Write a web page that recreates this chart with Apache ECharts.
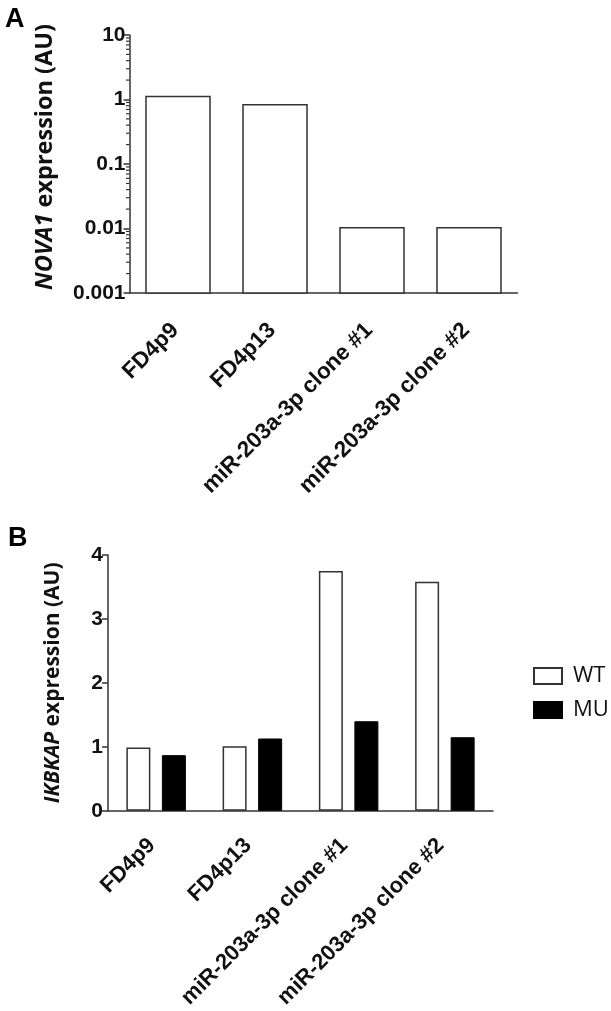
<!DOCTYPE html>
<html>
<head>
<meta charset="utf-8">
<script src="https://cdn.jsdelivr.net/npm/echarts@6/dist/echarts.min.js"></script>
<style>html,body{margin:0;padding:0;background:#fff;overflow:hidden}#c{width:611px;height:1011px}</style>
</head>
<body>
<div id="c"></div>
<script>
// ---- data ----
const categories = ['FD4p9', 'FD4p13', 'miR-203a-3p clone #1', 'miR-203a-3p clone #2'];
const nova1Values = [1.11, 0.83, 0.0103, 0.0103];
const ikbkapWT = [0.99, 1.01, 3.75, 3.58];
const ikbkapMU = [0.87, 1.13, 1.40, 1.15];
const seriesNames = ['WT', 'MU'];
const logTickLabels = ['0.001', '0.01', '0.1', '1', '10'];

const minorLogTicks = [];
[0.001, 0.01, 0.1, 1].forEach(d => { for (let k = 2; k <= 9; k++) minorLogTicks.push(+(d * k).toPrecision(3)); });

const axisColor = '#333';
const yTickFont = { fontFamily: 'Liberation Sans', fontWeight: 'bold', fontSize: 21, color: '#111' };

const chart = echarts.init(document.getElementById('c'), null, { renderer: 'canvas' });

function catAxis(gridIndex, margin, pad, size) {
  return {
    type: 'category', gridIndex, data: categories,
    axisLine: { lineStyle: { color: axisColor, width: 1.5 } },
    axisTick: { alignWithLabel: true, length: 7, lineStyle: { color: axisColor, width: 1.5 } },
    axisLabel: {
      interval: 0, rotate: 45, margin: margin, padding: [0, pad, 0, 0],
      fontFamily: 'Liberation Sans', fontWeight: 'bold', fontSize: size, color: '#111'
    }
  };
}
function nameStyle(size, pad) {
  return {
    fontFamily: 'Open Sans', fontWeight: 'bold', fontSize: size, color: '#111', padding: pad,
    rich: { i: { fontFamily: 'Open Sans', fontWeight: 'bold', fontStyle: 'italic', fontSize: size, color: '#111' } }
  };
}

chart.setOption({
  animation: false,
  title: [
    { text: 'A', left: 0, top: 1, textStyle: { fontFamily: 'Liberation Sans', fontWeight: 'bold', fontSize: 27, color: '#000' } },
    { text: 'B', left: 3, top: 520, textStyle: { fontFamily: 'Liberation Sans', fontWeight: 'bold', fontSize: 27, color: '#000' } }
  ],
  grid: [
    { left: 129.5, top: 35, width: 388, height: 258 },
    { left: 108, top: 555, width: 385, height: 257 }
  ],
  legend: {
    data: seriesNames, orient: 'vertical', left: 528, top: 660, icon: 'rect',
    itemWidth: 28, itemHeight: 16, itemGap: 12,
    textStyle: { fontFamily: 'Open Sans', fontSize: 22, color: '#111', padding: [0, 0, 0, 6] }
  },
  xAxis: [catAxis(0, 31, 4, 22.5), catAxis(1, 27, 6, 22)],
  yAxis: [
    {
      type: 'log', gridIndex: 0, logBase: 10, min: 0.001, max: 10,
      name: '{i|NOVA1} expression (AU)', nameLocation: 'middle', nameGap: 72, nameRotate: 90,
      nameTextStyle: nameStyle(23.5, [0, 0, 0, 14]),
      axisLine: { show: true, lineStyle: { color: axisColor, width: 1.5 } },
      axisTick: { show: true, length: 6, lineStyle: { color: axisColor, width: 1.5 } },
      splitLine: { show: false },
      axisLabel: Object.assign({ margin: 4, formatter: v => String(+(+v).toPrecision(3)) }, yTickFont)
    },
    {
      type: 'value', gridIndex: 1, min: 0, max: 4, interval: 1,
      name: '{i|IKBKAP} expression (AU)', nameLocation: 'middle', nameGap: 44, nameRotate: 90,
      nameTextStyle: nameStyle(21, 0),
      axisLine: { show: true, lineStyle: { color: axisColor, width: 1.5 } },
      axisTick: { show: true, length: 6, lineStyle: { color: axisColor, width: 1.5 } },
      splitLine: { show: false },
      axisLabel: Object.assign({ margin: 5 }, yTickFont)
    }
  ],
  series: [
    {
      type: 'custom', name: 'NOVA1', xAxisIndex: 0, yAxisIndex: 0, clip: false,
      data: nova1Values.map((v, i) => [i, v]),
      encode: { x: 0, y: 1 },
      renderItem: function (params, api) {
        const top = api.coord([api.value(0), api.value(1)]);
        const cs = params.coordSys;
        const bottom = cs.y + cs.height;
        const w = cs.width / categories.length * 0.66;
        return {
          type: 'rect',
          shape: { x: top[0] - w / 2, y: top[1], width: w, height: bottom - top[1] },
          style: { fill: '#fff', stroke: axisColor, lineWidth: 1.5 }
        };
      },
      z: 1
    },
    {
      type: 'custom', name: 'minorTicks', xAxisIndex: 0, yAxisIndex: 0, clip: false, silent: true,
      data: minorLogTicks.map(v => [0, v]),
      encode: { x: 0, y: 1 },
      renderItem: function (params, api) {
        const p = api.coord([0, api.value(1)]);
        const x0 = params.coordSys.x;
        return {
          type: 'line',
          shape: { x1: x0 - 3.5, y1: p[1], x2: x0, y2: p[1] },
          style: { stroke: axisColor, lineWidth: 1.2 }
        };
      },
      z: 3
    },
    {
      type: 'bar', name: seriesNames[0], xAxisIndex: 1, yAxisIndex: 1, data: ikbkapWT,
      barWidth: 24, barGap: '48%',
      itemStyle: { color: '#fff', borderColor: axisColor, borderWidth: 1.5 }
    },
    {
      type: 'bar', name: seriesNames[1], xAxisIndex: 1, yAxisIndex: 1, data: ikbkapMU,
      barWidth: 24, barGap: '48%',
      itemStyle: { color: '#000', borderColor: '#000', borderWidth: 1 }
    }
  ]
});
</script>
</body>
</html>
